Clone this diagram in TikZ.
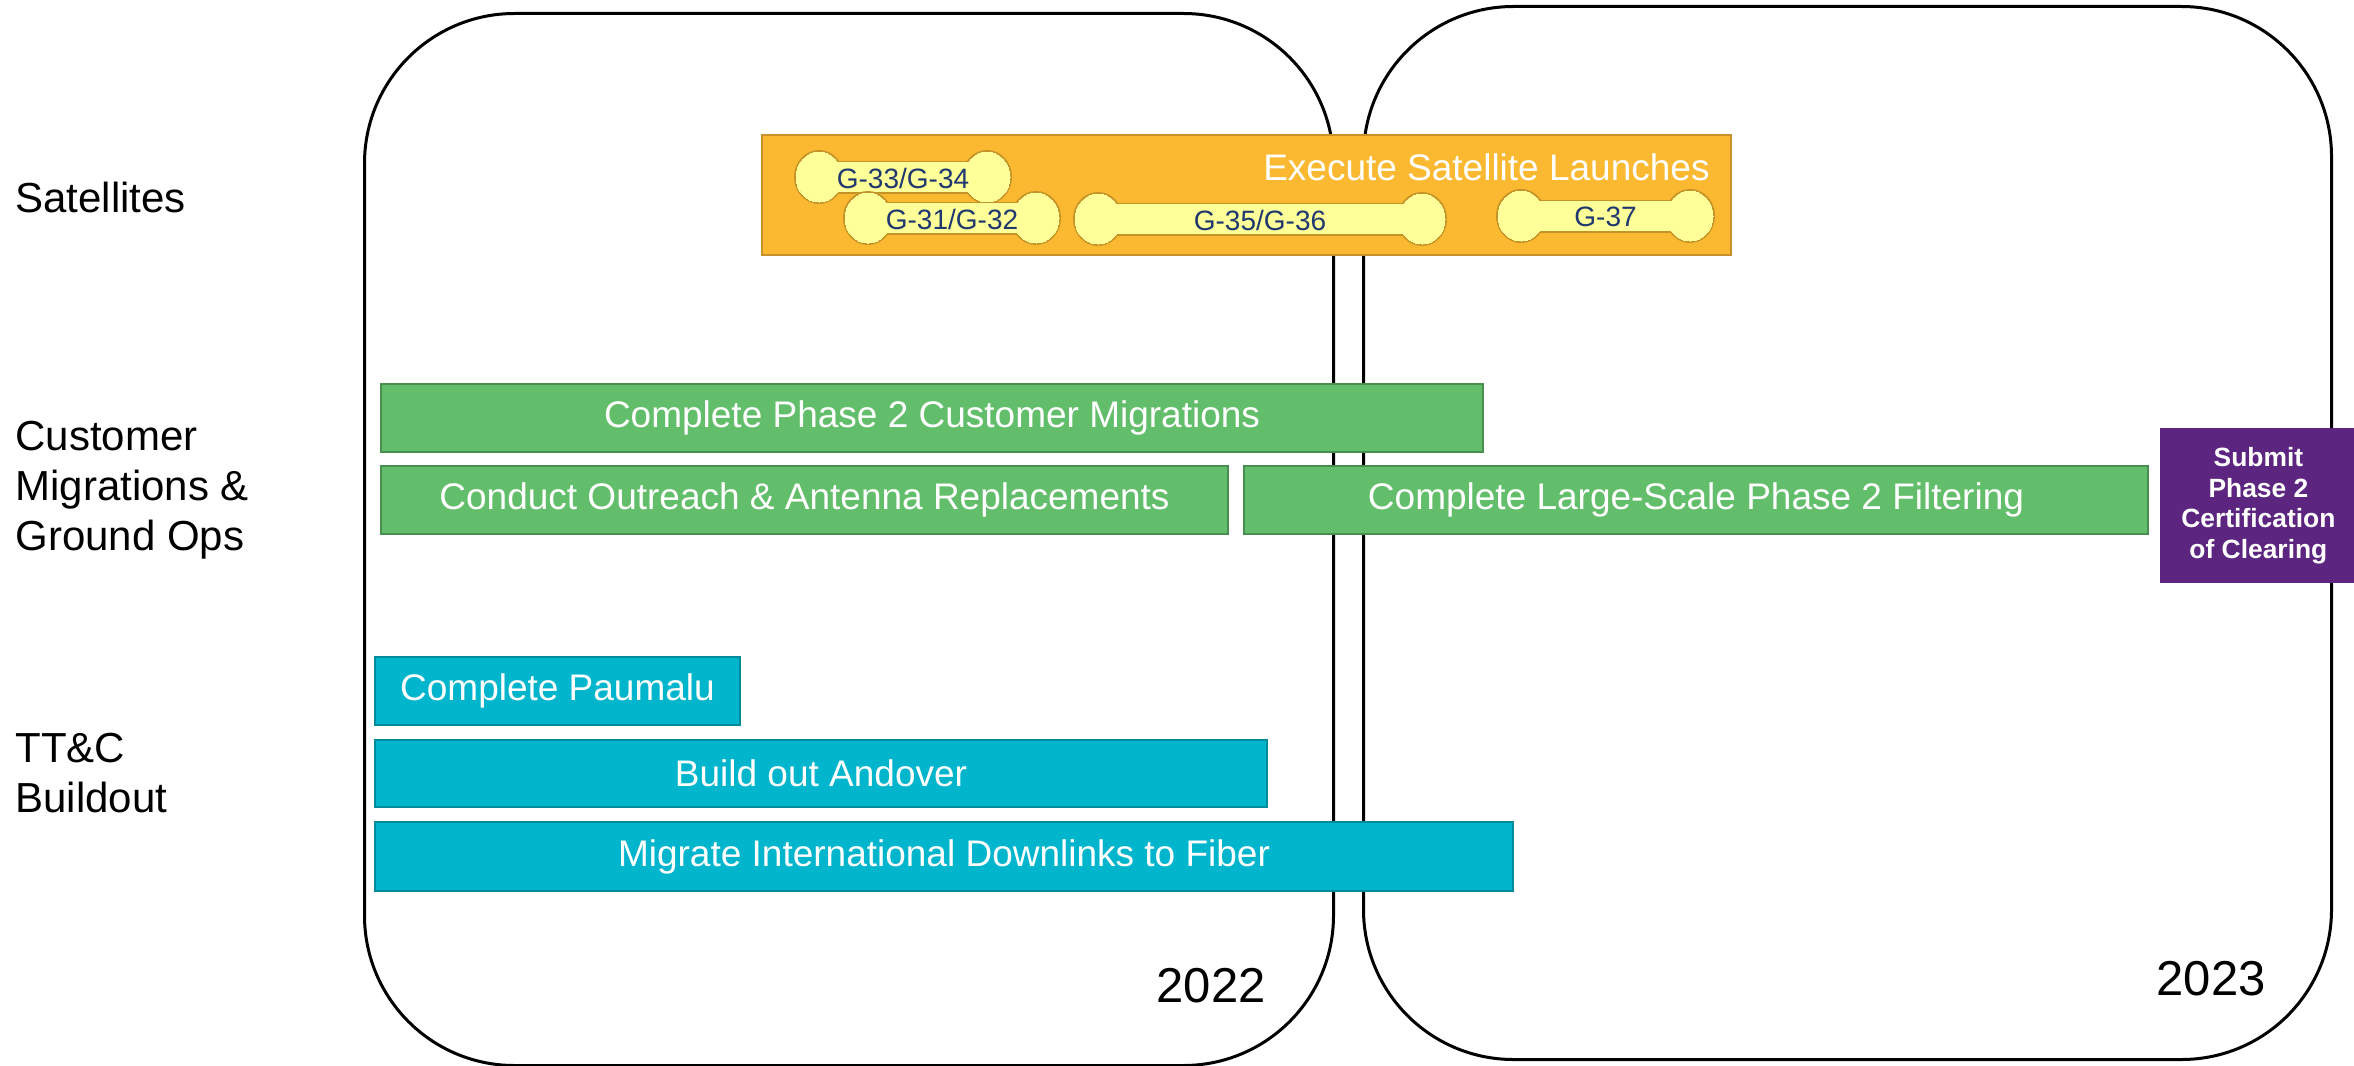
\documentclass[tikz,border=0pt]{standalone}
\usepackage{fontspec}
\setmainfont{Liberation Sans}
\definecolor{satorange}{RGB}{251,185,50}
\definecolor{satedge}{RGB}{200,145,45}
\definecolor{boneyellow}{RGB}{255,255,153}
\definecolor{boneedge}{RGB}{196,148,40}
\definecolor{bonetext}{RGB}{31,56,110}
\definecolor{migrgreen}{RGB}{99,190,107}
\definecolor{migredge}{RGB}{72,142,78}
\definecolor{ttcteal}{RGB}{0,181,204}
\definecolor{ttcedge}{RGB}{0,138,158}
\definecolor{certpurple}{RGB}{92,37,128}

% one satellite pair: name, left x, right x, centre y, label
\newcommand\satbone[5]{%
  \foreach \col/\lw in {boneedge/2pt, boneyellow/0pt} {
    \filldraw[fill=\col, draw=\col, line width=\lw] (#2+23,#4) ellipse (23 and 25);
    \filldraw[fill=\col, draw=\col, line width=\lw] (#3-23,#4) ellipse (23 and 25);
    \filldraw[fill=\col, draw=\col, line width=\lw] (#2+23,#4-14.5) rectangle (#3-23,#4+14.5);
  }
  \node[bone label] (#1) at ({(#2+#3)/2},#4+1) {#5};
}

\begin{document}
\begin{tikzpicture}[x=0.5pt, y=-0.5pt,
  year box/.style={draw, line width=1.5pt, rounded corners=75pt, inner sep=0, anchor=north west},
  year label/.style={font=\fontsize{24.5}{29}\selectfont},
  lane label/.style={anchor=west, align=left, inner sep=0, font=\fontsize{21}{25}\selectfont},
  task bar/.style={draw, line width=1pt, inner sep=0, anchor=north west, text=white, font=\fontsize{18.5}{22}\selectfont},
  sat bar/.style={task bar, fill=satorange, draw=satedge},
  migr bar/.style={task bar, fill=migrgreen, draw=migredge},
  ttc bar/.style={task bar, fill=ttcteal, draw=ttcedge},
  bone label/.style={inner sep=0, text=bonetext, font=\fontsize{14}{16}\selectfont},
  cert box/.style={inner sep=0, anchor=north west, fill=certpurple, text=white, align=center, font=\fontsize{13.2}{15.3}\selectfont\bfseries}]
\useasboundingbox (0,0) rectangle (2354,1065);

% years
\node[year box, minimum width=484.5pt, minimum height=526pt] (y2022) at (363,12) {};
\node[year box, minimum width=484pt, minimum height=526.5pt] (y2023) at (1362,5) {};
\node[year label] (l2022) at (1211,986) {2022};
\node[year label] (l2023) at (2211,979) {2023};

% lanes
\node[lane label] (sat)  at (15,197) {Satellites};
\node[lane label] (migr) at (15,490) {Customer\\Migrations \&\\Ground Ops};
\node[lane label] (ttc)  at (15,773) {TT\&C\\Buildout};

% satellites
\node[sat bar, minimum width=484.5pt, minimum height=60pt] (launch) at (761,134) {};
\node[anchor=east, inner sep=0, text=white, font=\fontsize{18.5}{22}\selectfont] (launchtxt) at (1710,167) {Execute Satellite Launches};
\satbone{g3334}{796}{1010}{177}{G-33/G-34}
\satbone{g3132}{845}{1059}{218}{G-31/G-32}
\satbone{g3536}{1075}{1445}{219}{G-35/G-36}
\satbone{g37}{1498}{1713}{216}{G-37}

% customer migrations & ground ops
\node[migr bar, minimum width=551pt, minimum height=34pt] (phase2) at (380,383) {Complete Phase 2 Customer Migrations};
\node[migr bar, minimum width=423.5pt, minimum height=34pt] (outreach) at (380,465) {Conduct Outreach \& Antenna Replacements};
\node[migr bar, minimum width=452pt, minimum height=34pt] (filter) at (1243,465) {Complete Large-Scale Phase 2 Filtering};
\node[cert box, minimum width=98pt, minimum height=77.5pt] (cert) at (2160,428) {Submit\\Phase 2\\Certification\\of Clearing};

% tt&c buildout
\node[ttc bar, minimum width=182.5pt, minimum height=34pt] (paumalu) at (374,656) {Complete Paumalu};
\node[ttc bar, minimum width=446pt, minimum height=33.5pt] (andover) at (374,739) {Build out Andover};
\node[ttc bar, minimum width=569pt, minimum height=34.5pt] (fiber) at (374,821) {Migrate International Downlinks to Fiber};
\end{tikzpicture}
\end{document}
